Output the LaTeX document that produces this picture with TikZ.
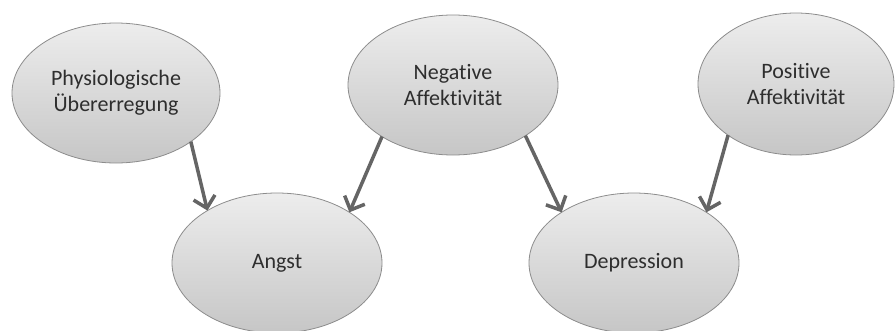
\documentclass[tikz,border=0pt]{standalone}
\usepackage{fontspec}
\setmainfont{Carlito}[Ligatures=NoCommon]
\usetikzlibrary{shapes.geometric,arrows.meta}
\definecolor{rimgray}{HTML}{8C8C8C}
\definecolor{topgray}{HTML}{EDEDED}
\definecolor{botgray}{HTML}{C6C6C6}
\definecolor{arrowgray}{HTML}{656565}
\definecolor{textgray}{HTML}{2E2E2E}
\tikzset{
  concept/.style={ellipse, draw=rimgray, line width=0.8pt,
    top color=topgray, bottom color=botgray, inner sep=0pt, outer sep=0pt,
    text=textgray, align=center,
    font=\fontsize{22}{26}\selectfont},
  link/.style={draw=arrowgray, line width=3.5pt,
    -{Straight Barb[length=11pt,width=22pt,line width=3.5pt]}}
}
\begin{document}
\begin{tikzpicture}[x=1pt,y=-1pt]
  \useasboundingbox (0,0) rectangle (895,330);
  \node[concept, minimum width=208pt, minimum height=140pt] (phys) at (116,93) {Physiologische\\Übererregung};
  \node[concept, minimum width=210pt, minimum height=140pt] (neg) at (453,85) {Negative\\Affektivität};
  \node[concept, minimum width=196pt, minimum height=142pt] (pos) at (796,84) {Positive\\Affektivität};
  \node[concept, minimum width=210pt, minimum height=140pt] (angst) at (277,263) {Angst};
  \node[concept, minimum width=210pt, minimum height=140pt] (dep) at (634,263) {Depression};
  \draw[link] (phys.-33) -- (angst.143);
  \draw[link] (neg.-144) -- (angst.35);
  \draw[link] (neg.-35) -- (dep.145);
  \draw[link] (pos.-143) -- (dep.35);
\end{tikzpicture}
\end{document}
